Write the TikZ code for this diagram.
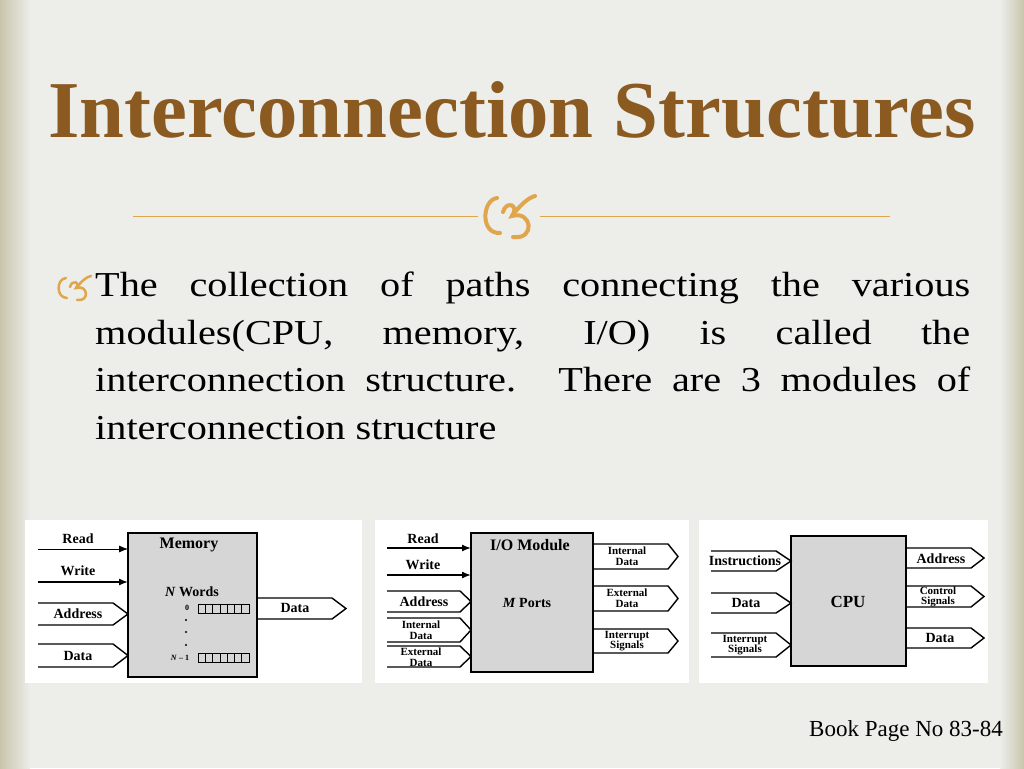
\documentclass[tikz,border=0pt]{standalone}
\usepackage{fontspec}
\setmainfont{Liberation Serif}
\newfontfamily\bodyfont[FakeStretch=1.15]{Liberation Serif}
\usetikzlibrary{arrows.meta}
\definecolor{bg}{HTML}{EDEDEA}
\definecolor{edge}{HTML}{C9C5AC}
\definecolor{titlec}{HTML}{8A5A20}
\definecolor{gold}{HTML}{E0A64E}
\definecolor{boxg}{HTML}{D6D6D6}
\newcommand\fatarr[5]{\draw[fat] (#1,#4)--(#2,#4)--(#3,{(#4+#5)/2})--(#2,#5)--(#1,#5);}
\tikzset{
  fat/.style={line width=1.4pt,line join=miter},
  modbox/.style={draw,line width=1.4pt,fill=boxg},
  lab/.style={font=\bfseries\fontsize{14}{14}\selectfont,inner sep=0pt},
  slab/.style={font=\bfseries\fontsize{11}{10.5}\selectfont,inner sep=0pt,align=center},
  sig/.style={line width=1.4pt,-{Latex[length=9pt,width=7pt]}},
  panel/.style={fill=white,draw=none},
}
\begin{document}
\begin{tikzpicture}[x=1pt,y=-1pt]
\useasboundingbox (0,0) rectangle (1024,768);
\fill[bg] (0,0) rectangle (1024,768);
\shade[left color=edge,right color=bg] (0,0) rectangle (30,768);
\shade[left color=bg,right color=edge] (1000,0) rectangle (1024,768);
% title
\node[inner sep=0pt,text=titlec] (title) at (512,110) {\resizebox{927pt}{!}{\bfseries Interconnection Structures}};
\draw[gold,line width=1pt] (133,216) -- (478,216) (540,216) -- (890,216);
% ornament
\begin{scope}[gold,line width=4pt,line cap=round]
\draw (497,198) .. controls (482,200) and (480,234) .. (500,233);
\draw (503,212) .. controls (506,200) and (520,205) .. (512,216) .. controls (532,210) and (536,240) .. (513,237);
\draw (512,216) .. controls (520,205) and (528,198) .. (535,196);
\end{scope}
% bullet
\begin{scope}[gold,line width=2.5pt,line cap=round]
\draw (66,278) .. controls (56,279) and (56,298) .. (67,298);
\draw (70,287) .. controls (72,279) and (81,282) .. (76,288) .. controls (88,284) and (90,302) .. (77,300);
\draw (76,288) .. controls (82,281) and (86,277) .. (91,276);
\end{scope}
\node[anchor=north west,inner sep=0pt,text width=875pt,align=justify,font=\bodyfont\fontsize{35}{47.5}\selectfont] (body) at (95,272)
{The collection of paths connecting the various\linebreak modules(CPU, memory, I/O) is called the\linebreak interconnection structure. There are 3 modules of\linebreak interconnection structure};
% panels
\fill[panel] (25,520) rectangle (362,683);
\fill[panel] (375,520) rectangle (689,683);
\fill[panel] (699,520) rectangle (988,683);
% memory
\draw[modbox] (128,533) rectangle (257,677);
\node[font=\bfseries\fontsize{16}{16}\selectfont,inner sep=0pt] (mem) at (189,545) {Memory};
\node[lab] (nw) at (192,592) {\textit{N} Words};
\node[font=\bfseries\fontsize{8}{8}\selectfont,inner sep=0pt] (z) at (187,608) {0};
\node[font=\bfseries\fontsize{8}{8}\selectfont,inner sep=0pt] (nm) at (180,658) {\textit{N} -- 1};
\foreach \yy in {604,653}{\foreach \i in {0,...,6}{\draw[line width=0.8pt] ({198+\i*7.3},\yy) rectangle ({198+(\i+1)*7.3},\yy+9);}}
\foreach \yy in {620,632,645}{\fill (186,\yy) circle (1.2);}
\node[lab] (mr) at (78,539) {Read};
\node[lab] (mw) at (78,571) {Write};
\coordinate (mr0) at (38,549); \coordinate (mr1) at (128,549);
\coordinate (mw0) at (38,582); \coordinate (mw1) at (128,582);
\draw[sig,line width=0.8pt] (mr0) -- (mr1);
\draw[sig] (mw0) -- (mw1);
\fatarr{38}{113}{128}{603}{625}\node[lab] (ma) at (78,614) {Address};
\fatarr{38}{113}{128}{644}{667}\node[lab] (md) at (78,656) {Data};
\fatarr{257}{332}{346}{598}{619}\node[lab] (mo) at (295,608) {Data};
% IO
\draw[modbox] (471,533) rectangle (593,672);
\node[font=\bfseries\fontsize{16}{16}\selectfont,inner sep=0pt] (io) at (530,545) {I/O Module};
\node[lab] (mp) at (527,603) {\textit{M} Ports};
\node[lab] (ir) at (423,539) {Read};
\node[lab] (iw) at (423,565) {Write};
\coordinate (ir0) at (387,548); \coordinate (ir1) at (471,548);
\coordinate (iw0) at (387,575); \coordinate (iw1) at (471,575);
\draw[sig] (ir0) -- (ir1);
\draw[sig] (iw0) -- (iw1);
\fatarr{387}{460}{471}{591}{612}\node[lab] (ia) at (424,602) {Address};
\fatarr{387}{460}{471}{618}{642}\node[slab] (iid) at (421,630) {Internal\\Data};
\fatarr{387}{460}{471}{646}{667}\node[slab] (ied) at (421,657) {External\\Data};
\fatarr{593}{668}{678}{544}{569}\node[slab] (oid) at (627,556) {Internal\\Data};
\fatarr{593}{668}{678}{586}{611}\node[slab] (oed) at (627,598) {External\\Data};
\fatarr{593}{668}{678}{629}{653}\node[slab] (ois) at (627,641) {Interrupt\\Signals};
% CPU
\draw[modbox] (791,536) rectangle (906,666);
\node[font=\bfseries\fontsize{17}{17}\selectfont,inner sep=0pt] (cpu) at (848,602) {CPU};
\fatarr{711}{776}{791}{551}{571}\node[lab] (ci) at (745,561) {Instructions};
\fatarr{711}{776}{791}{593}{613}\node[lab] (cd) at (746,603) {Data};
\fatarr{711}{776}{791}{633}{657}\node[slab] (cis) at (745,645) {Interrupt\\Signals};
\fatarr{906}{971}{984}{548}{568}\node[lab] (ca) at (941,559) {Address};
\fatarr{906}{971}{984}{586}{607}\node[slab] (cc) at (938,597) {Control\\Signals};
\fatarr{906}{971}{984}{628}{648}\node[lab] (co) at (940,638) {Data};
% footer
\node[anchor=east,inner sep=0pt,font=\fontsize{23}{23}\selectfont] (bp) at (1003,731) {Book Page No 83-84};
\end{tikzpicture}
\end{document}
